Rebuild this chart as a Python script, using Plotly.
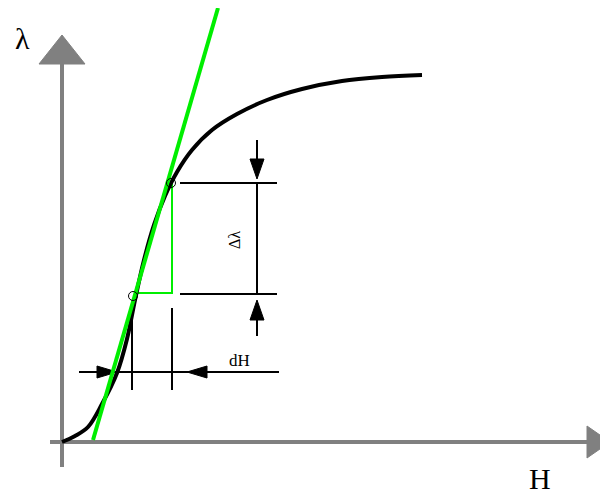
import plotly.graph_objects as go

# Magnetostriction curve lambda(H), schematic units (origin at axes crossing)
H_vals = [0, 13, 26, 40, 55, 65, 73, 82, 92, 103, 115, 130, 150, 175, 205, 240, 280, 320, 360]
lam_vals = [0, 6, 15, 38, 69, 103, 142, 182, 217, 246, 270, 292, 312, 328, 342, 353, 361, 365, 367]

# tangent line (green)
tan_H = [31, 156]
tan_lam = [2, 434]

# measurement points
p1 = (71, 146)   # lower point
p2 = (109, 259)  # upper point (tangent point)

fig = go.Figure()

GRAY = "#808080"
GREEN = "#00ee00"

def line(xs, ys, color="black", width=2):
    fig.add_trace(go.Scatter(x=xs, y=ys, mode="lines", line=dict(color=color, width=width),
                             hoverinfo="skip", showlegend=False))

def tri(xs, ys, color):
    fig.add_trace(go.Scatter(x=xs + [xs[0]], y=ys + [ys[0]], mode="lines", fill="toself",
                             fillcolor=color, line=dict(color=color, width=1),
                             hoverinfo="skip", showlegend=False))

# axes
line([0, 0], [-25, 378], GRAY, 4)
tri([-23, 23, 0], [378, 378, 407], GRAY)
line([-12, 526], [0, 0], GRAY, 4)
tri([525, 525, 548], [16, -16, 0], GRAY)

# dimension lines for delta lambda
line([118, 215], [259, 259], "black", 2)
line([118, 215], [148, 148], "black", 2)
line([195, 195], [148, 259], "black", 2)
line([195, 195], [283, 302], "black", 2)
tri([188, 202, 195], [283, 283, 263], "black")
line([195, 195], [122, 106], "black", 2)
tri([188, 202, 195], [122, 122, 142], "black")

# dimension lines for dH
line([70, 70], [132, 52], "black", 2)
line([110, 110], [134, 52], "black", 2)
line([17, 217], [70, 70], "black", 2)
tri([35, 35, 55], [76, 64, 70], "black")
tri([145, 145, 125], [76, 64, 70], "black")

# green triangle
line([76, 110, 110], [149, 149, 259], GREEN, 2)

# curve and tangent
fig.add_trace(go.Scatter(x=H_vals, y=lam_vals, mode="lines",
                         line=dict(color="black", width=4, shape="spline", smoothing=1.0),
                         hoverinfo="skip", showlegend=False))
fig.add_trace(go.Scatter(x=tan_H, y=tan_lam, mode="lines", line=dict(color=GREEN, width=4),
                         hoverinfo="skip", showlegend=False))

# small dashed circles at measurement points
fig.add_trace(go.Scatter(x=[p1[0], p2[0]], y=[p1[1], p2[1]], mode="markers",
                         marker=dict(symbol="circle-open", size=9, color="black", line=dict(width=1)),
                         hoverinfo="skip", showlegend=False))

# labels
fig.add_annotation(x=-40, y=404, text="λ", showarrow=False,
                   font=dict(family="Liberation Serif", size=30, color="black"))
fig.add_annotation(x=478, y=-36, text="H", showarrow=False,
                   font=dict(family="Liberation Serif", size=30, color="black"))
fig.add_annotation(x=172, y=202, text="Δλ", showarrow=False, textangle=-90,
                   font=dict(family="Liberation Serif", size=16, color="black"))
fig.add_annotation(x=177, y=82, text="dH", showarrow=False,
                   font=dict(family="Liberation Serif", size=17, color="black"))

# page body has an 8px margin, so the figure is drawn 600x489 offset by 8px
fig.update_layout(
    width=600, height=489,
    margin=dict(l=0, r=0, t=0, b=0),
    paper_bgcolor="white", plot_bgcolor="white",
    xaxis=dict(range=[-54, 546], visible=False, fixedrange=True),
    yaxis=dict(range=[-55, 434], visible=False, fixedrange=True),
)

fig.write_html("out.html")
